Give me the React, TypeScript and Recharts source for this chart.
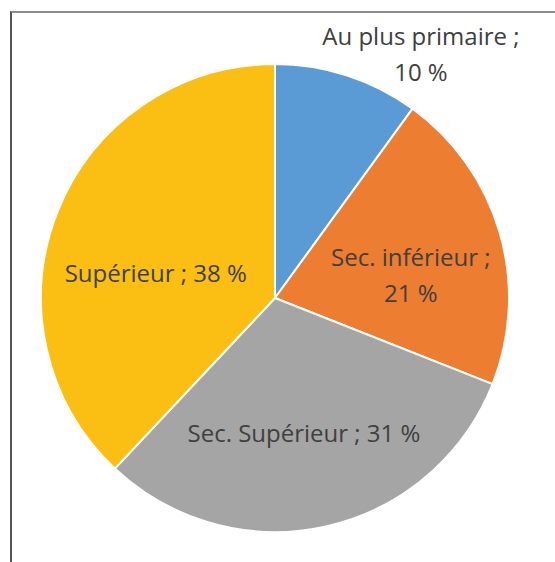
import React from 'react';
import { PieChart, Pie, Cell } from 'recharts';

const CATEGORIES = ['Au plus primaire', 'Sec. inférieur', 'Sec. Supérieur', 'Supérieur'];
const SHARES = [10, 21, 31, 38];
const COLORS = ['#5B9BD5', '#ED7D31', '#A5A5A5', '#FBBF13'];

// label placement (angle in degrees, distance in px from the centre), wrap onto two lines or not
const LABEL_LAYOUT = [
  { angle: 59.2, dist: 285, wrap: true },
  { angle: 10.2, dist: 138, wrap: true },
  { angle: -77.8, dist: 137, wrap: false },
  { angle: 167.7, dist: 122, wrap: false },
];

const data = CATEGORIES.map((name, i) => ({ name, value: SHARES[i] }));

const RADIAN = Math.PI / 180;

const renderLabel = (props: any) => {
  const { cx, cy, index, payload } = props;
  const layout = LABEL_LAYOUT[index];
  const x = cx + layout.dist * Math.cos(layout.angle * RADIAN);
  const y = cy - layout.dist * Math.sin(layout.angle * RADIAN);
  const first = `${payload.name} ;`;
  const second = `${payload.value} %`;
  const lines = layout.wrap ? [first, second] : [`${first} ${second}`];
  const lh = 36;
  const top = y - ((lines.length - 1) * lh) / 2;
  return (
    <text
      key={`lbl-${index}`}
      x={x}
      y={top}
      textAnchor="middle"
      dominantBaseline="central"
      fill="#404040"
      fontSize={24}
      fontFamily="'Open Sans', sans-serif"
    >
      {lines.map((l, i) => (
        <tspan key={i} x={x} dy={i === 0 ? 0 : lh}>
          {l}
        </tspan>
      ))}
    </text>
  );
};

export default function App() {
  return (
    <div style={{ position: 'absolute', left: 0, top: 0, width: 555, height: 562, background: '#fff', overflow: 'hidden' }}>
      <div
        style={{
          position: 'absolute',
          left: 10,
          top: 11,
          width: 600,
          height: 600,
          borderTop: '2px solid #8c8c8c',
          borderLeft: '2px solid #555',
          boxSizing: 'border-box',
        }}
      />
      <PieChart
        width={555}
        height={562}
        margin={{ top: 0, right: 0, bottom: 0, left: 0 }}
        style={{ position: 'absolute', left: 0, top: 0 }}
      >
        <Pie
          data={data}
          dataKey="value"
          nameKey="name"
          cx={275}
          cy={298}
          outerRadius={234}
          startAngle={90}
          endAngle={-270}
          stroke="#fff"
          strokeWidth={2}
          label={renderLabel}
          labelLine={false}
          isAnimationActive={false}
        >
          {data.map((d, i) => (
            <Cell key={d.name} fill={COLORS[i]} />
          ))}
        </Pie>
      </PieChart>
    </div>
  );
}
